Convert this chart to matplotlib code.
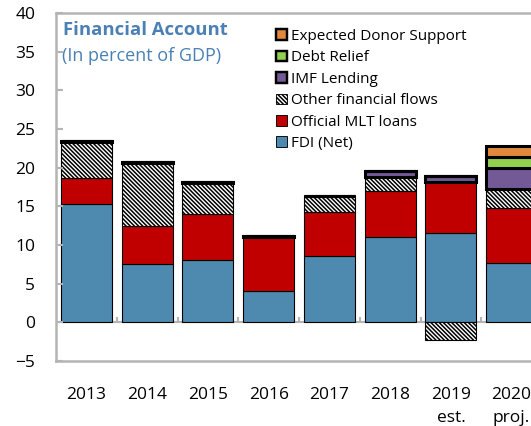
import numpy as np
import matplotlib
matplotlib.use("Agg")
import matplotlib.pyplot as plt
from matplotlib.patches import Patch

plt.rcParams['font.family'] = ['Open Sans', 'DejaVu Sans']
plt.rcParams['hatch.linewidth'] = 1.1

# values (percent of GDP)
years = ['2013', '2014', '2015', '2016', '2017', '2018', '2019\nest.', '2020\nproj.']
fdi = [15.3, 7.5, 8.0, 4.1, 8.6, 11.0, 11.6, 7.7]
mlt = [3.4, 5.0, 6.0, 6.9, 5.7, 6.0, 6.5, 7.1]
other = [4.6, 8.1, 4.0, 0.0, 2.0, 1.8, -2.3, 2.4]
imf = [0.1, 0.1, 0.1, 0.1, 0.1, 0.8, 0.8, 2.8]
debt = [0, 0, 0, 0, 0, 0, 0, 1.4]
donor = [0, 0, 0, 0, 0, 0, 0, 1.4]

gray = '#b4b4b4'
blue = '#4e8ab0'
red = '#c00000'
purple = '#735a96'
green = '#92d050'
orange = '#e0883c'
title_col = '#4a80b4'

fig = plt.figure(figsize=(5.31, 4.26), dpi=100)
ax = fig.add_axes([56/531, 65/426, 486/531, 348/426])

x = np.arange(len(years))
w = 0.84
hatch = '\\' * 8
series = [
    (fdi, dict(color=blue, edgecolor='black', linewidth=0.8), 'FDI (Net)'),
    (mlt, dict(color=red, edgecolor='black', linewidth=0.8), 'Official MLT loans'),
    (other, dict(color='white', edgecolor='black', linewidth=0.8, hatch=hatch), 'Other financial flows'),
    (imf, dict(color=purple, edgecolor='black', linewidth=2.2), 'IMF Lending'),
    (debt, dict(color=green, edgecolor='black', linewidth=2.2), 'Debt Relief'),
    (donor, dict(color=orange, edgecolor='black', linewidth=2.2), 'Expected Donor Support'),
]

pos_bottom = np.zeros(len(years))
neg_bottom = np.zeros(len(years))
handles = []
for vals, style, label in series:
    v = np.array(vals, dtype=float)
    bottom = np.where(v >= 0, pos_bottom, neg_bottom)
    ax.bar(x, v, w, bottom=bottom, **style)
    pos_bottom += np.where(v >= 0, v, 0)
    neg_bottom += np.where(v < 0, v, 0)
    handles.append(Patch(facecolor=style['color'], edgecolor='black',
                         linewidth=style['linewidth'] * 0.8, hatch=style.get('hatch'), label=label))

ax.set_xlim(-0.5, len(years) - 0.5)
ax.set_ylim(-5, 40)
ax.set_yticks(np.arange(-5, 41, 5))

# zero line with category separators
ax.axhline(0, color=gray, linewidth=1.5, zorder=0.5)
ax.vlines(x[:-1] + 0.5, 0, 0.7, color=gray, linewidth=1.5)

for side in ['left', 'top', 'bottom', 'right']:
    ax.spines[side].set_color(gray)
    ax.spines[side].set_linewidth(1.8)

ax.tick_params(axis='y', direction='in', length=5, width=1.5, color=gray, pad=15,
               labelsize=12.5, labelcolor='black')
ax.set_xticks(x)
ax.set_xticklabels(years, fontsize=12.5, linespacing=1.55)
ax.tick_params(axis='x', length=0, pad=19)

ax.text(0.015, 0.978, 'Financial Account', transform=ax.transAxes, fontsize=13.3,
        fontweight='bold', color=title_col, va='top', ha='left')
ax.text(0.012, 0.903, '(In percent of GDP)', transform=ax.transAxes, fontsize=13,
        color=title_col, va='top', ha='left')

leg = ax.legend(handles=handles[::-1], loc='upper left', bbox_to_anchor=(276/531, 1 - 29/426),
                bbox_transform=fig.transFigure, frameon=False, fontsize=11,
                handlelength=0.7, handleheight=0.7, handletextpad=0.3, labelspacing=0.42,
                borderaxespad=0, borderpad=0)

fig.savefig('out.png', dpi=100)
